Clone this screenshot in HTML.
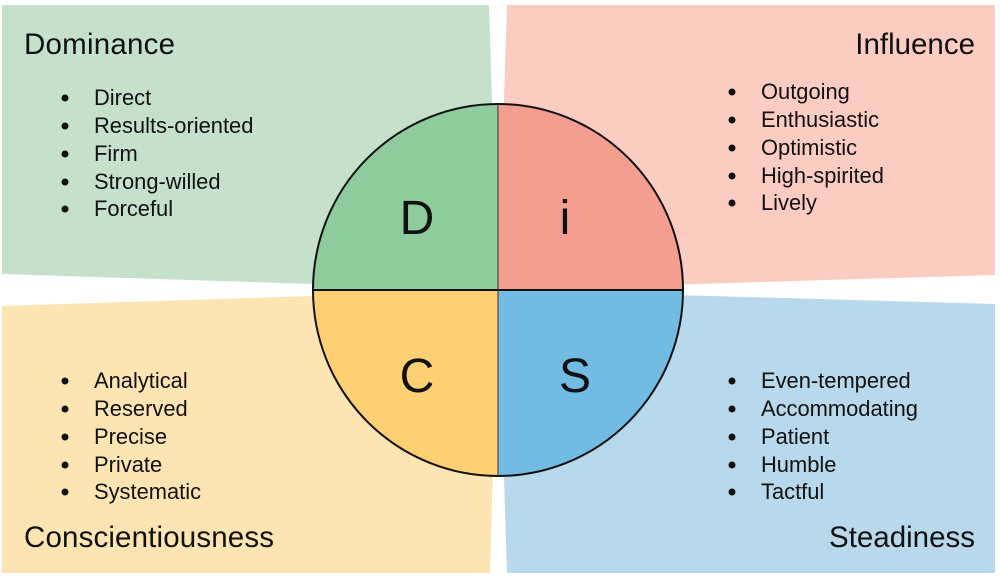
<!DOCTYPE html>
<html><head><style>
html,body{margin:0;padding:0;background:#fff;}
svg{display:block;}
text{font-family:"Liberation Sans",sans-serif;fill:#111;}
</style></head><body>
<svg width="1000" height="577" viewBox="0 0 1000 577">
<polygon points="2,5 489,5 498,290 2,274" fill="#c5e1cc"/>
<polygon points="507,5 995,5 995,275 498,290" fill="#fbcdc2"/>
<polygon points="2,306 498,290 490,573 2,573" fill="#fde4b3"/>
<polygon points="498,290 995,304 995,573 507,573" fill="#b8d9ec"/>
<path d="M498,290 L498,104 A185,186 0 0 0 313,290 Z" fill="#8ecc9e"/>
<path d="M498,290 L498,104 A185,186 0 0 1 683,290 Z" fill="#f49e8f"/>
<path d="M498,290 L313,290 A185,186 0 0 0 498,476 Z" fill="#fed073"/>
<path d="M498,290 L683,290 A185,186 0 0 1 498,476 Z" fill="#72bbe2"/>
<ellipse cx="498" cy="290" rx="185" ry="186" fill="none" stroke="#111" stroke-width="2"/>
<line x1="313" y1="290" x2="683" y2="290" stroke="#111" stroke-width="2"/>
<line x1="498" y1="104" x2="498" y2="476" stroke="#333" stroke-width="1"/>
<g font-size="48" text-anchor="middle">
<text x="417" y="234">D</text><text x="565" y="234">i</text>
<text x="417" y="392">C</text><text x="575" y="392">S</text>
</g>
<g font-size="29.5">
<text x="24" y="54" textLength="151">Dominance</text>
<text x="975" y="54" text-anchor="end">Influence</text>
<text x="24" y="547" textLength="250">Conscientiousness</text>
<text x="975" y="547" text-anchor="end">Steadiness</text>
</g>
<g font-size="21.9">
<text x="94" y="105">Direct</text><text x="94" y="133">Results-oriented</text><text x="94" y="161">Firm</text><text x="94" y="189">Strong-willed</text><text x="94" y="216">Forceful</text>
<text x="761" y="99">Outgoing</text><text x="761" y="127">Enthusiastic</text><text x="761" y="155">Optimistic</text><text x="761" y="183">High-spirited</text><text x="761" y="210">Lively</text>
<text x="94" y="388">Analytical</text><text x="94" y="416">Reserved</text><text x="94" y="444">Precise</text><text x="94" y="472">Private</text><text x="94" y="499">Systematic</text>
<text x="761" y="388">Even-tempered</text><text x="761" y="416">Accommodating</text><text x="761" y="444">Patient</text><text x="761" y="472">Humble</text><text x="761" y="499">Tactful</text>
</g>
<g fill="#111">
<circle cx="65" cy="98" r="3.5"/><circle cx="65" cy="126" r="3.5"/><circle cx="65" cy="154" r="3.5"/><circle cx="65" cy="182" r="3.5"/><circle cx="65" cy="209" r="3.5"/>
<circle cx="732" cy="92" r="3.5"/><circle cx="732" cy="120" r="3.5"/><circle cx="732" cy="148" r="3.5"/><circle cx="732" cy="176" r="3.5"/><circle cx="732" cy="203" r="3.5"/>
<circle cx="65" cy="381" r="3.5"/><circle cx="65" cy="409" r="3.5"/><circle cx="65" cy="437" r="3.5"/><circle cx="65" cy="465" r="3.5"/><circle cx="65" cy="492" r="3.5"/>
<circle cx="732" cy="381" r="3.5"/><circle cx="732" cy="409" r="3.5"/><circle cx="732" cy="437" r="3.5"/><circle cx="732" cy="465" r="3.5"/><circle cx="732" cy="492" r="3.5"/>
</g>
</svg>
</body></html>
